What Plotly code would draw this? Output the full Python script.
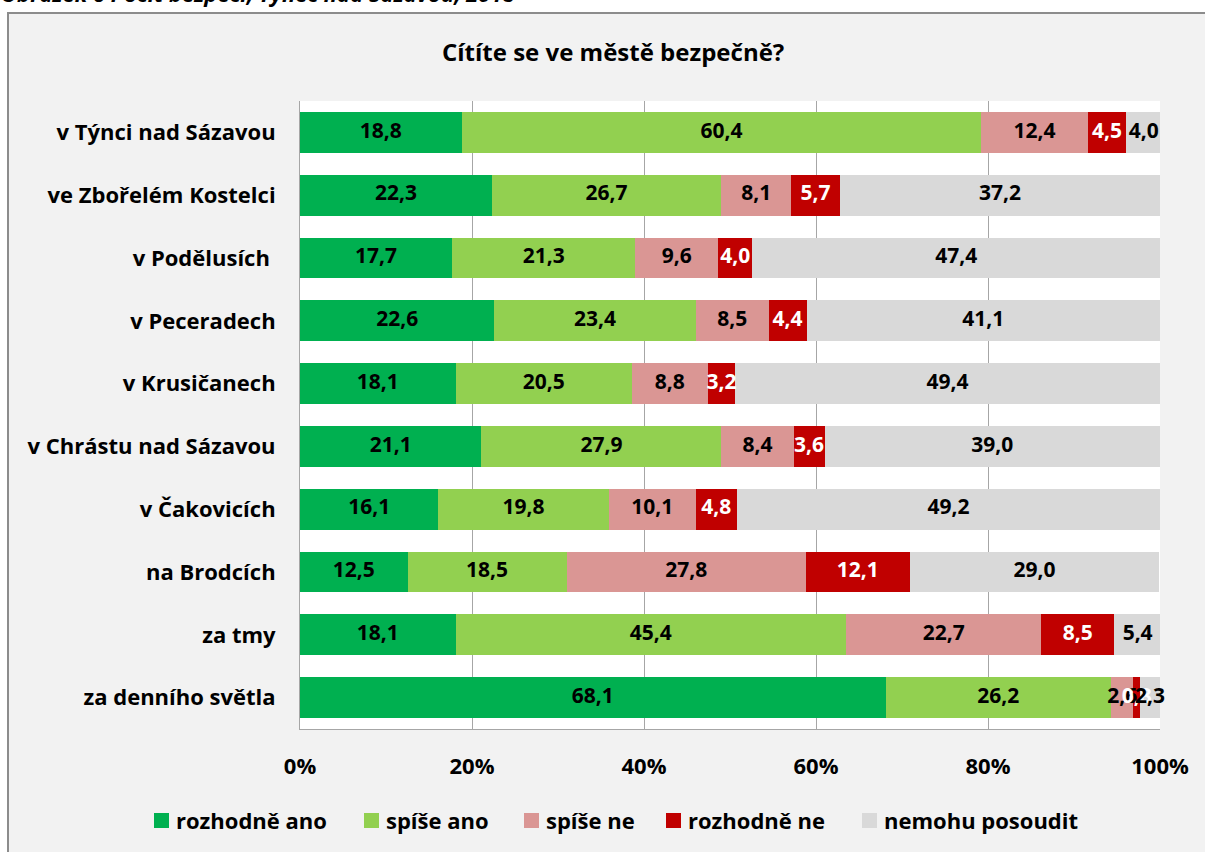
import plotly.graph_objects as go

categories = ["v Týnci nad Sázavou", "ve Zbořelém Kostelci", "v Podělusích\u00a0", "v Peceradech",
              "v Krusičanech", "v Chrástu nad Sázavou", "v Čakovicích", "na Brodcích",
              "za tmy", "za denního světla"]
rozhodne_ano = [18.8, 22.3, 17.7, 22.6, 18.1, 21.1, 16.1, 12.5, 18.1, 68.1]
spise_ano = [60.4, 26.7, 21.3, 23.4, 20.5, 27.9, 19.8, 18.5, 45.4, 26.2]
spise_ne = [12.4, 8.1, 9.6, 8.5, 8.8, 8.4, 10.1, 27.8, 22.7, 2.6]
rozhodne_ne = [4.5, 5.7, 4.0, 4.4, 3.2, 3.6, 4.8, 12.1, 8.5, 0.8]
nemohu = [4.0, 37.2, 47.4, 41.1, 49.4, 39.0, 49.2, 29.0, 5.4, 2.3]

series_names = ["rozhodně ano", "spíše ano", "spíše ne", "rozhodně ne", "nemohu posoudit"]
series_values = [rozhodne_ano, spise_ano, spise_ne, rozhodne_ne, nemohu]
colors = ["#00b050", "#92d050", "#da9694", "#c00000", "#d9d9d9"]
text_colors = ["black", "black", "black", "white", "black"]
tick_vals = [0, 20, 40, 60, 80, 100]
tick_text = ["0%", "20%", "40%", "60%", "80%", "100%"]

title_text = "Cítíte se ve městě bezpečně?"
caption_text = "Obrázek 6 Pocit bezpečí, Týnec nad Sázavou, 2018"

FONT = "Open Sans"
FS_LAB = 21   # data labels
FS_CAT = 22   # category / tick / legend
FS_TITLE = 24

W, H = 1205, 852
L, R, T, B = 300, 45, 101, 123
pw, ph = W - L - R, H - T - B

def px(x):
    return (x - L) / pw

def py(y):
    return (H - B - y) / ph

fig = go.Figure()
for name, vals, col in zip(series_names, series_values, colors):
    fig.add_trace(go.Bar(
        y=categories, x=vals, name=name, orientation="h",
        marker=dict(color=col, line=dict(width=0)),
        hoverinfo="skip", showlegend=False,
    ))

# data labels at the middle of each stacked segment
base = [0.0] * len(categories)
for name, vals, tcol in zip(series_names, series_values, text_colors):
    mids = [b + v / 2 for b, v in zip(base, vals)]
    fig.add_trace(go.Scatter(
        x=mids, y=categories, mode="text",
        text=[f"{v:.1f}".replace(".", ",") for v in vals],
        textposition="middle center",
        textfont=dict(color=tcol, size=FS_LAB, family=FONT, weight="bold"),
        showlegend=False, hoverinfo="skip", cliponaxis=False,
    ))
    base = [b + v for b, v in zip(base, vals)]

# legend (square + label), placed below the plot
legend_left = [154, 364, 524, 666, 862]
shapes = [
    dict(type="rect", xref="paper", yref="paper", x0=px(8), x1=px(1230), y0=py(880), y1=py(13),
         fillcolor="#f2f2f2", line=dict(color="#8c8c8c", width=2), layer="below"),
    dict(type="rect", xref="paper", yref="paper", x0=0, x1=1, y0=0, y1=1,
         fillcolor="white", line=dict(width=0), layer="below"),
]
annotations = [
    dict(text=title_text, xref="paper", yref="paper", x=px(613), y=py(52),
         xanchor="center", yanchor="middle", showarrow=False,
         font=dict(family=FONT, size=FS_TITLE, color="black", weight="bold")),
    dict(text=caption_text, xref="paper", yref="paper", x=px(-1), y=py(-7),
         xanchor="left", yanchor="middle", showarrow=False,
         font=dict(family=FONT, size=FS_CAT, color="black", weight="bold", style="italic")),
]
for name, col, lx in zip(series_names, colors, legend_left):
    shapes.append(dict(type="rect", xref="paper", yref="paper",
                       x0=px(lx), x1=px(lx + 15), y0=py(828), y1=py(813),
                       fillcolor=col, line=dict(width=0), layer="above"))
    annotations.append(dict(text=name, xref="paper", yref="paper", x=px(lx + 20), y=py(820),
                            xanchor="left", yanchor="middle", showarrow=False,
                            font=dict(family=FONT, size=FS_CAT, color="black", weight="bold")))

fig.update_layout(
    width=W, height=H,
    margin=dict(l=L, r=R, t=T, b=B, pad=0),
    barmode="stack", bargap=0.35,
    paper_bgcolor="white", plot_bgcolor="rgba(0,0,0,0)",
    font=dict(family=FONT, size=FS_CAT, color="black", weight="bold"),
    showlegend=False,
    xaxis=dict(range=[0, 100], tickvals=tick_vals, ticktext=tick_text, showgrid=True,
               gridcolor="#a6a6a6", gridwidth=1, zeroline=False, showline=True,
               linecolor="#a6a6a6", linewidth=1, ticks="", ticklabelstandoff=18,
               tickfont=dict(family=FONT, size=FS_CAT, color="black", weight="bold"), fixedrange=True),
    yaxis=dict(autorange="reversed", showgrid=False, showline=True, linecolor="#a6a6a6",
               linewidth=1, ticks="", ticklabelstandoff=19,
               tickfont=dict(family=FONT, size=FS_CAT, color="black", weight="bold"), fixedrange=True),
    shapes=shapes,
    annotations=annotations,
)

fig.write_html("out.html", config={"displayModeBar": False},
               post_script="document.body.style.margin='0';")
